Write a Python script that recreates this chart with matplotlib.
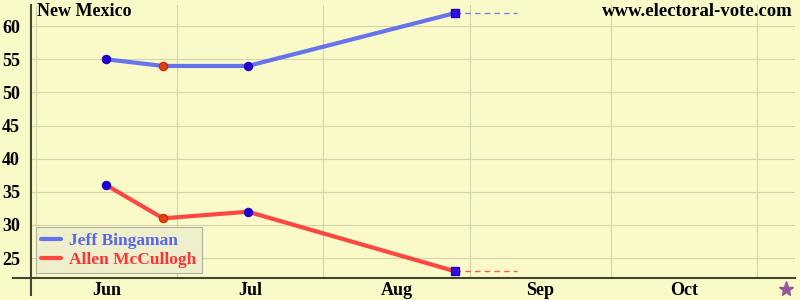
import matplotlib
matplotlib.use("Agg")
import matplotlib.pyplot as plt
import matplotlib.dates as mdates
from matplotlib.lines import Line2D
import datetime as dt

# ---- data ----
poll_dates = ["2006-06-16", "2006-06-28", "2006-07-16", "2006-08-29"]
bingaman = [55, 54, 54, 62]
mccullogh = [36, 31, 32, 23]
marker_colors = ["#2200cc", "#dd4411", "#2200cc", "#2200cc"]
extend_to = "2006-09-11"
election_day = "2006-11-07"
month_starts = ["2006-06-01", "2006-07-01", "2006-08-01", "2006-09-01", "2006-10-01", "2006-11-01"]
month_labels = ["Jun", "Jul", "Aug", "Sep", "Oct"]
yticks = [25, 30, 35, 40, 45, 50, 55, 60]
state = "New Mexico"
site = "www.electoral-vote.com"
names = ["Jeff Bingaman", "Allen McCullogh"]

BG = "#fafac8"
BLUE = "#5566ee"
RED = "#ff3333"
GRID = "#d4d4b0"
FONT = "Liberation Serif"

def d(s):
    return mdates.date2num(dt.datetime.strptime(s, "%Y-%m-%d"))

xs = [d(s) for s in poll_dates]
ms = [d(s) for s in month_starts]

fig = plt.figure(figsize=(8, 3), dpi=100, facecolor=BG)
ax = fig.add_axes([31/800, 22/300, 764/800, 273/300], facecolor=BG)

ax.set_xlim(d("2006-05-31"), d("2006-11-09"))
ax.set_ylim(22, 63.2)

for spine in ax.spines.values():
    spine.set_visible(False)

# grid
for m in ms:
    ax.axvline(m, color=GRID, lw=0.8, zorder=0)
for y in yticks:
    ax.axhline(y, color=GRID, lw=0.8, zorder=0)

# lines
for vals, col, name in [(bingaman, BLUE, names[0]), (mccullogh, RED, names[1])]:
    ax.plot(xs, vals, color=col, lw=3, alpha=0.9, label=name, zorder=3, solid_capstyle="round")
    ax.plot([xs[-1], d(extend_to)], [vals[-1], vals[-1]], color=col, lw=1, ls=(0, (4, 3)), alpha=0.8, zorder=2)
    for x, v, mc in zip(xs[:-1], vals[:-1], marker_colors[:-1]):
        ax.plot([x], [v], marker="o", ms=6, mfc=mc,
                mec="#2200cc" if mc == "#2200cc" else "#cc2200", mew=0.8, zorder=4)
    ax.plot([xs[-1]], [vals[-1]], marker="s", ms=6, mfc="#3311dd", mec="#2200cc", zorder=4)

ax.set_yticks(yticks)
ax.set_yticklabels([str(y) for y in yticks], fontsize=13, family=FONT, fontweight="bold")
ax.tick_params(axis="y", length=0, pad=8)
mids = [(ms[i] + ms[i+1]) / 2 for i in range(len(month_labels))]
ax.set_xticks(mids)
ax.set_xticklabels(month_labels, fontsize=13, family=FONT, fontweight="bold")
ax.tick_params(axis="x", length=0, pad=3)

# star at election day
ax.plot([d(election_day)], [20.3], marker="*", ms=11, color="#995599", clip_on=False)

# axis lines (crossing)
fig.add_artist(Line2D([13/800, 795/800], [22/300, 22/300], color="#444433", lw=1.5))
fig.add_artist(Line2D([31/800, 31/800], [5/300, 295/300], color="#444433", lw=1.5))

fig.text(37/800, 1 - 11/300, state, ha="left", va="center",
         fontsize=13, family=FONT, fontweight="bold")
fig.text(793/800, 1 - 11/300, site, ha="right", va="center",
         fontsize=13.5, family=FONT, fontweight="bold")

leg = ax.legend(loc="lower left", bbox_to_anchor=(0.0, 0.0), fancybox=False,
                facecolor="#efefcc", edgecolor="#b0b0a0", framealpha=1,
                prop={"family": FONT, "weight": "bold", "size": 12.5},
                handlelength=1.1, handletextpad=0.5, borderpad=0.3, labelspacing=0.15,
                borderaxespad=0.3)
leg.get_frame().set_linewidth(0.8)
for t, c in zip(leg.get_texts(), [BLUE, RED]):
    t.set_color(c)

fig.savefig("out.png", dpi=100, facecolor=BG)
